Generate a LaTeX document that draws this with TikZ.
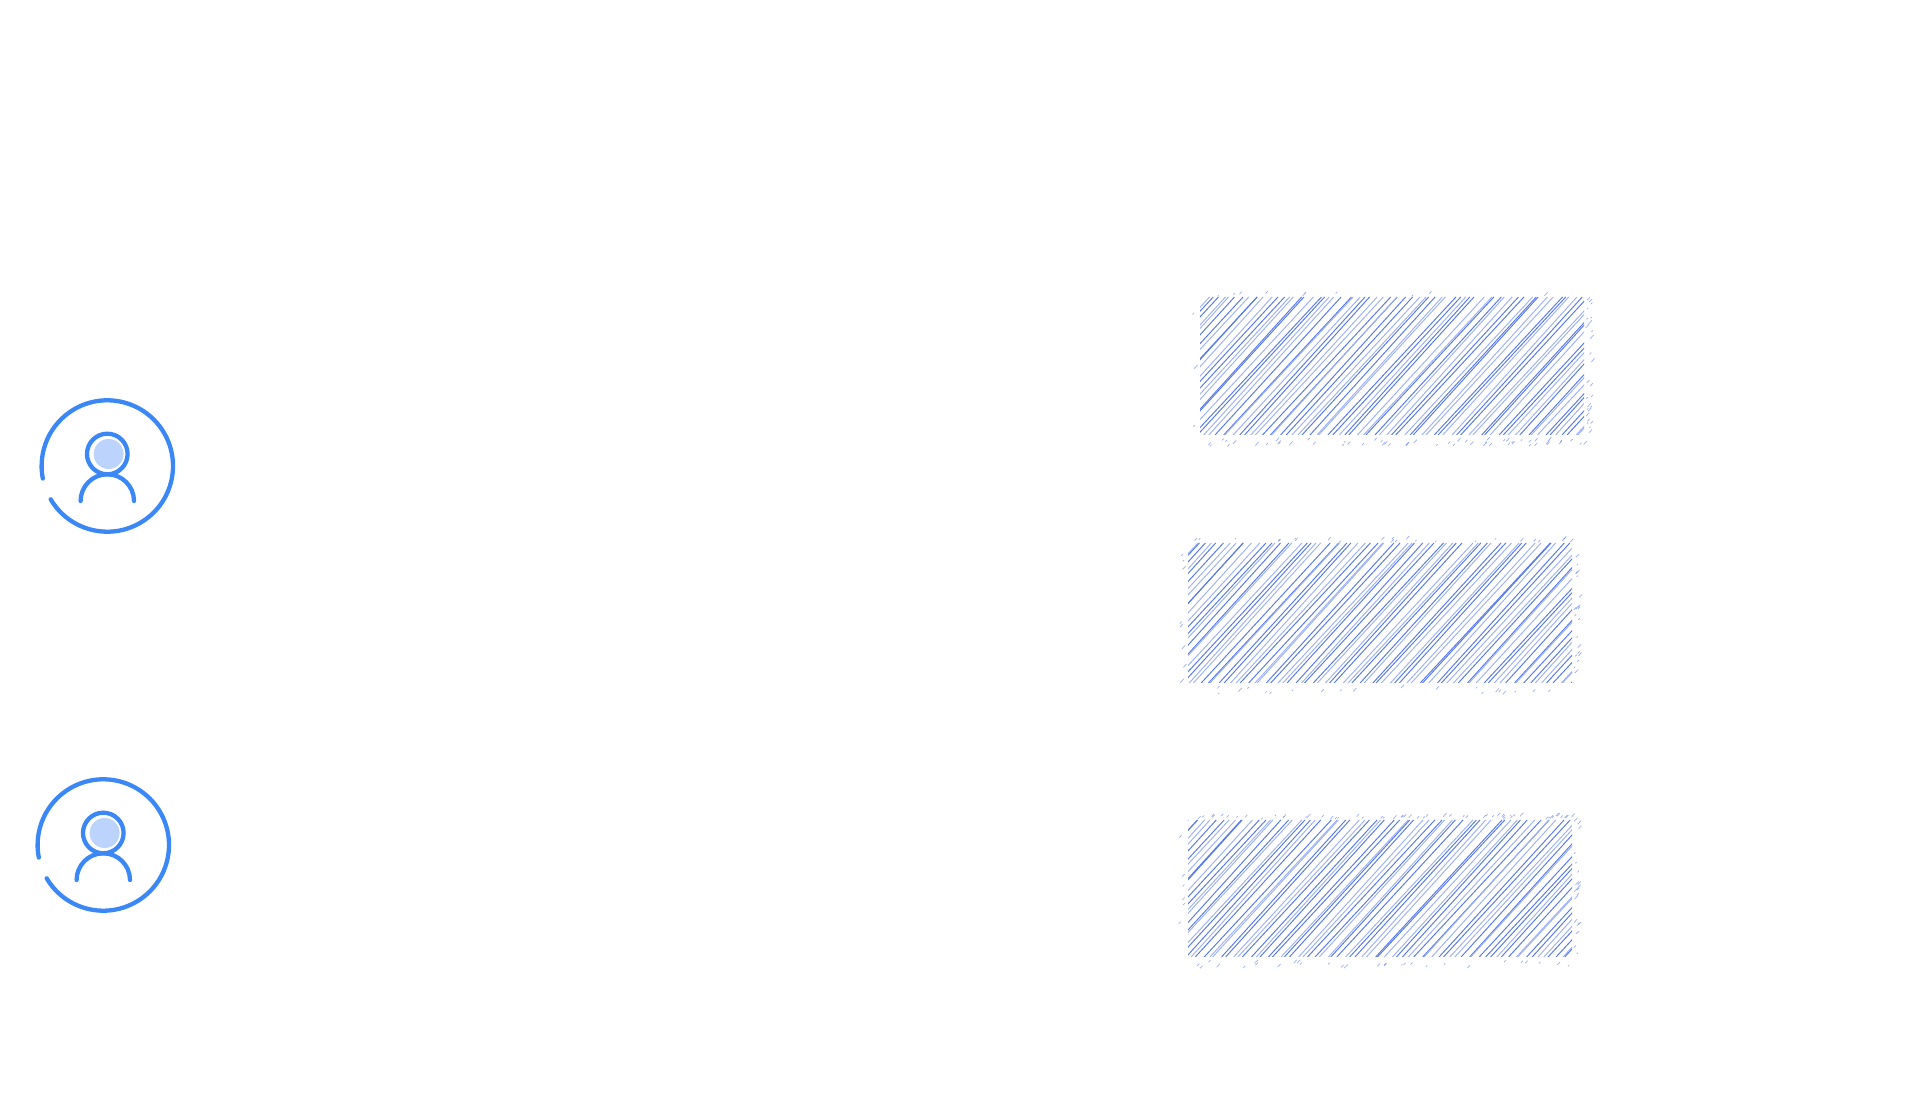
\documentclass[tikz,border=0pt]{standalone}
\definecolor{iconblue}{HTML}{3A87F5}
\definecolor{iconfill}{HTML}{BCD4FB}
\definecolor{hatchdark}{HTML}{5678EA}
\definecolor{hatchlight}{HTML}{9DB1F5}
\tikzset{
  iconline/.style={draw=iconblue,line width=4.3pt,line cap=round},
  hatchline/.style={line width=0.95pt},
  speck/.style={draw=hatchdark,line width=0.7pt,opacity=0.6},
}
% person icon; #1,#2 = centre in px from the lower left
\newcommand{\usericon}[2]{%
  \begin{scope}[shift={(#1,#2)}]
    \fill[iconfill] (1.3,12) circle (15);
    \draw[iconline] (210.5:65.7) arc (210.5:551:65.7);
    \draw[iconline] (0,12) circle (20.3);
    \draw[iconline] (-26.7,-35) arc (180:0:26.7);
  \end{scope}}
% short specks along a band next to an edge
\newcommand{\specks}[5]{% count, xmin, ymin, xmax, ymax
  \foreach \k in {1,...,#1}{
    \pgfmathsetmacro\sx{#2+rnd*(#4-#2)}
    \pgfmathsetmacro\sy{#3+rnd*(#5-#3)}
    \pgfmathsetmacro\sl{1.0+rnd*2.4}
    \draw[speck] (\sx,\sy) -- ++(\sl,1.09*\sl);
  }}
% hatched box: x0,y0,x1,y1 (y up), seed, specks top,right,bottom,left
\newcommand{\hatchbox}[9]{%
  \pgfmathsetseed{#5}
  \pgfmathsetmacro\burn{rnd+rnd+rnd+rnd}
  \begin{scope}
    \clip (#1,#2) rectangle (#3,#4);
    \pgfmathsetmacro\hh{#4-#2}
    \pgfmathsetmacro\runx{#1-\hh/1.09-12}
    \global\let\curx\runx
    \foreach \i in {1,...,90}{
      \pgfmathsetmacro\gap{6.6+2.6*sin(\i*137.5+#5)+(mod(\i,4)==0 ? -2.9 : 0)}
      \pgfmathsetmacro\nx{\curx+\gap}
      \global\let\curx\nx
      \pgfmathsetmacro\tilt{1.09+0.015*sin(\i*61+#5)}
      \pgfmathsetmacro\ss{sin(\i*97.3+#5)>-0.15 ? 1 : 0}
      \ifdim\ss pt>0.5pt
        \draw[hatchline,hatchdark] (\nx,#2) -- ++({\hh/\tilt},\hh);
      \else
        \draw[hatchline,hatchlight] (\nx,#2) -- ++({\hh/\tilt},\hh);
      \fi
    }
  \end{scope}
  \specks{#6}{#1}{#4+0.5}{#3}{#4+3}
  \specks{#7}{#3+1.5}{#2}{#3+4.5}{#4}
  \specks{#8}{#1}{#2-5}{#3}{#2-1.5}
  \specks{#9}{#1-4}{#2}{#1-1.5}{#4}
}
\begin{document}
\begin{tikzpicture}[x=1pt,y=1pt]
  \useasboundingbox (0,0) rectangle (1914,1095);
  \usericon{107.3}{629}
  \usericon{103.3}{250}
  \hatchbox{1200}{660}{1584}{798}{17}{10}{26}{55}{3}
  \hatchbox{1188}{412}{1572}{552}{53}{24}{20}{20}{8}
  \hatchbox{1188}{138}{1572}{275}{89}{55}{20}{30}{6}
\end{tikzpicture}
\end{document}
